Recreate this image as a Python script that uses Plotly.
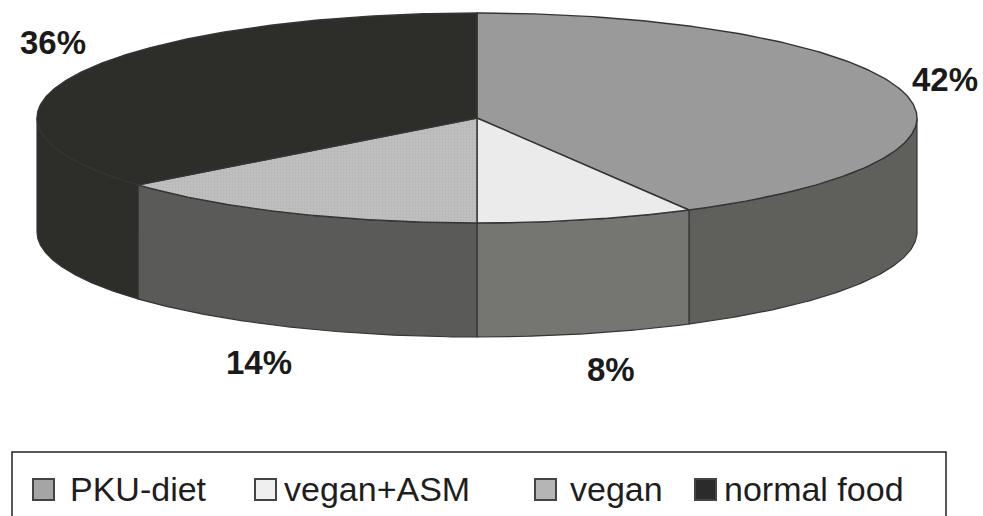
import numpy as np
import plotly.graph_objects as go

# --- data -------------------------------------------------------------
categories = ["PKU-diet", "vegan+ASM", "vegan", "normal food"]
shares = [42, 8, 14, 36]  # percent of participants

# --- styling ------------------------------------------------------------
top_colors = ["#9a9a9a", "#ebebeb", "#c0c0c0", "#2d2d2a"]
side_colors = ["#5f5f5c", "#757572", "#5a5a58", "#2d2d2a"]
swatch_colors = ["#a5a5a5", "#efefef", "#b5b5b5", "#2b2b2b"]
edge_color = "#353535"

W, H = 983, 516
# ellipse geometry of the tilted disc (axis units equal screen pixels)
CX, CY, RX, RY, DEPTH = 477, 118, 440, 105, 114

# percentage label anchors and legend layout
label_pos = [(945, 79), (611, 369), (259, 362), (53, 42)]
swatch_x = [33, 255, 535, 695]
legend_text_x = [68, 282, 568, 722]
LEGEND_Y = 489


def rim(theta_deg, drop=0.0):
    """Point on the disc rim; theta measured clockwise from 12 o'clock."""
    t = np.radians(theta_deg)
    return CX + RX * np.sin(t), CY - RY * np.cos(t) + drop


fig = go.Figure()

total = float(sum(shares))
bounds = np.concatenate([[0.0], np.cumsum(shares) / total * 360.0])

# side walls: only the front half of the rim (90..270 degrees) is visible
for i, cat in enumerate(categories):
    a0, a1 = bounds[i], bounds[i + 1]
    lo, hi = max(a0, 90.0), min(a1, 270.0)
    if hi <= lo:
        continue
    th = np.linspace(lo, hi, 120)
    xt, yt = rim(th)
    xb, yb = rim(th[::-1], DEPTH)
    fig.add_trace(go.Scatter(
        x=np.concatenate([xt, xb, xt[:1]]),
        y=np.concatenate([yt, yb, yt[:1]]),
        mode="lines", fill="toself", fillcolor=side_colors[i],
        line=dict(color=edge_color, width=1.2),
        hoverinfo="skip", showlegend=False,
    ))

# top faces of the slices
for i, cat in enumerate(categories):
    a0, a1 = bounds[i], bounds[i + 1]
    th = np.linspace(a0, a1, 240)
    xa, ya = rim(th)
    x = np.concatenate([[CX], xa, [CX]])
    y = np.concatenate([[CY], ya, [CY]])
    kw = {}
    if cat == "vegan":
        kw["fillpattern"] = dict(shape=".", bgcolor=top_colors[i],
                                 fgcolor="#aaaaaa", size=3, solidity=0.35)
    fig.add_trace(go.Scatter(
        x=x, y=y, mode="lines", fill="toself", fillcolor=top_colors[i],
        line=dict(color=edge_color, width=1.4),
        name=cat, text=f"{cat}: {shares[i]}%", hoverinfo="text",
        showlegend=False, **kw,
    ))

annotations = []
for i, v in enumerate(shares):
    lx, ly = label_pos[i]
    annotations.append(dict(
        x=lx, y=ly, xref="x", yref="y", text=f"<b>{v}%</b>",
        showarrow=False, xanchor="center", yanchor="middle",
        font=dict(family="Liberation Sans, Arial, sans-serif", size=33,
                  color="#1a1a1a"),
    ))

shapes = [dict(type="rect", xref="x", yref="y", x0=12, x1=946, y0=452, y1=530,
               line=dict(color="#222222", width=1.5), fillcolor="white",
               layer="below")]
for i, cat in enumerate(categories):
    sx = swatch_x[i]
    shapes.append(dict(type="rect", xref="x", yref="y", x0=sx, x1=sx + 21,
                       y0=LEGEND_Y - 10, y1=LEGEND_Y + 11,
                       line=dict(color="#444444", width=2),
                       fillcolor=swatch_colors[i]))
    annotations.append(dict(
        x=legend_text_x[i], y=LEGEND_Y, xref="x", yref="y", text=cat,
        showarrow=False, xanchor="left", yanchor="middle",
        font=dict(family="Liberation Sans, Arial, sans-serif", size=34,
                  color="#1e1e1e"),
    ))

fig.update_layout(
    width=W, height=H, autosize=False,
    margin=dict(l=0, r=0, t=0, b=0, pad=0),
    paper_bgcolor="white", plot_bgcolor="white",
    xaxis=dict(range=[0, W], visible=False, fixedrange=True),
    yaxis=dict(range=[H, 0], visible=False, fixedrange=True),
    shapes=shapes, annotations=annotations,
    showlegend=False,
)

fig.write_html("out.html", config={"displayModeBar": False})
